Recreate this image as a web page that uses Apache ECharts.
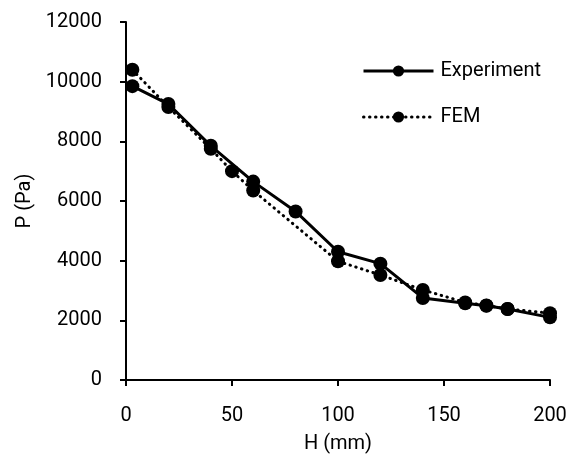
<!DOCTYPE html>
<html>
<head>
<meta charset="utf-8">
<script src="https://cdn.jsdelivr.net/npm/echarts@6/dist/echarts.min.js"></script>
<style>html,body{margin:0;padding:0;background:#fff;}#c{width:569px;height:455px;}</style>
</head>
<body>
<div id="c"></div>
<script>
const expH = [3, 20, 40, 60, 80, 100, 120, 140, 160, 170, 180, 200];
const expP = [9850, 9250, 7850, 6650, 5650, 4300, 3900, 2750, 2570, 2490, 2380, 2100];
const femH = [3, 20, 40, 50, 60, 100, 120, 140, 160, 170, 180, 200];
const femP = [10400, 9150, 7750, 7000, 6350, 3980, 3520, 3020, 2600, 2500, 2380, 2240];
const xTicks = [0, 50, 100, 150, 200];
const yTicks = [0, 2000, 4000, 6000, 8000, 10000, 12000];

const font = 'Roboto';
const chart = echarts.init(document.getElementById('c'), null, {renderer: 'canvas'});
const zip = (a, b) => a.map((v, i) => [v, b[i]]);
chart.setOption({
  animation: false,
  backgroundColor: '#fff',
  grid: {left: 126, right: 19, top: 22, bottom: 75, containLabel: false, outerBoundsMode: 'none'},
  legend: {
    orient: 'vertical', left: 357, top: 56, itemGap: 26,
    itemWidth: 70, itemHeight: 14,
    lineStyle: {width: 3},
    textStyle: {fontFamily: font, fontSize: 20, color: '#000', padding: [0, 0, 0, 2]},
    data: ['Experiment', 'FEM']
  },
  xAxis: {
    type: 'value', min: xTicks[0], max: xTicks[xTicks.length - 1], interval: 50,
    name: 'H (mm)', nameLocation: 'middle', nameGap: 54,
    nameTextStyle: {fontFamily: font, fontSize: 20, color: '#000'},
    axisLine: {lineStyle: {color: '#000', width: 2}},
    axisTick: {show: true, inside: false, length: 6, lineStyle: {color: '#000', width: 2}},
    axisLabel: {fontFamily: font, fontSize: 20, color: '#000', margin: 26, formatter: v => String(v)},
    splitLine: {show: false}
  },
  yAxis: {
    type: 'value', min: yTicks[0], max: yTicks[yTicks.length - 1], interval: 2000,
    name: 'P (Pa)', nameLocation: 'middle', nameGap: 86,
    nameTextStyle: {fontFamily: font, fontSize: 20, color: '#000'},
    axisLine: {show: true, lineStyle: {color: '#000', width: 2}},
    axisTick: {show: true, inside: false, length: 6, lineStyle: {color: '#000', width: 2}},
    axisLabel: {fontFamily: font, fontSize: 20, color: '#000', margin: 24, formatter: v => String(v)},
    splitLine: {show: false}
  },
  series: [
    {
      name: 'FEM', type: 'line', data: zip(femH, femP),
      symbol: 'circle', symbolSize: 14,
      lineStyle: {color: '#000', width: 3, type: [0.5, 5.5], cap: 'round'},
      itemStyle: {color: '#000'}
    },
    {
      name: 'Experiment', type: 'line', data: zip(expH, expP),
      symbol: 'circle', symbolSize: 14,
      lineStyle: {color: '#000', width: 3, type: 'solid'},
      itemStyle: {color: '#000'}
    }
  ]
});
</script>
</body>
</html>
